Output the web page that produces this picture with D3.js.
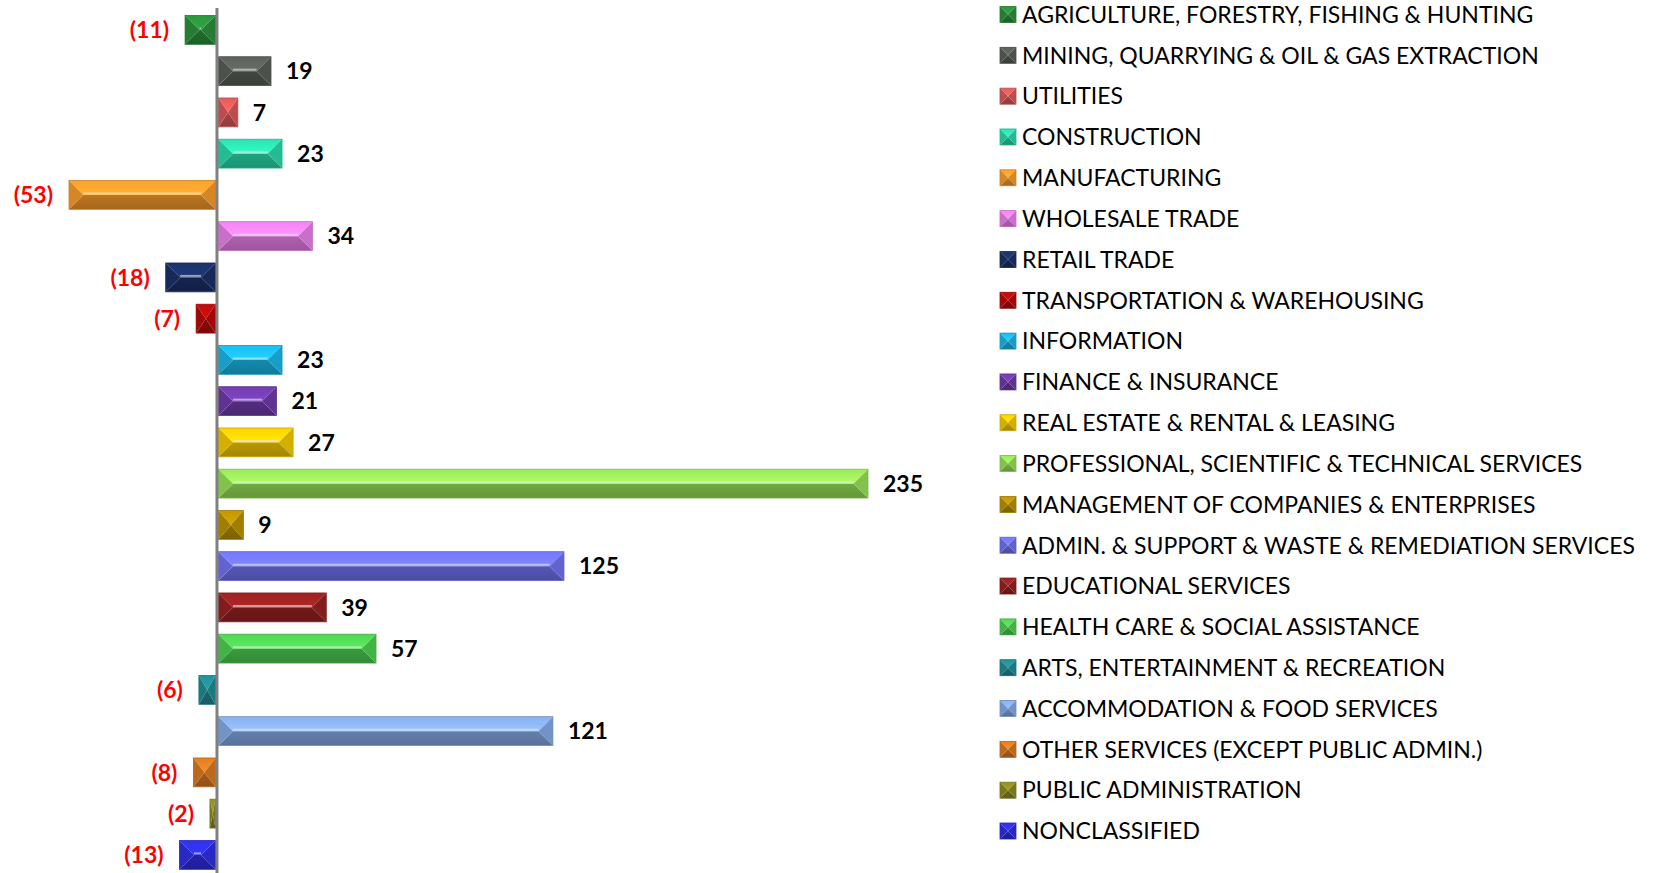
<!DOCTYPE html>
<html>
<head>
<meta charset="utf-8">
<script src="https://cdn.jsdelivr.net/npm/d3@7"></script>
<style>
  body { margin: 0; background: #fff; }
  text { font-family: Lato, "Open Sans", sans-serif; }
</style>
</head>
<body>
<svg id="chart" width="1654" height="873"></svg>
<script>
var categories = [
  "AGRICULTURE, FORESTRY, FISHING & HUNTING",
  "MINING, QUARRYING & OIL & GAS EXTRACTION",
  "UTILITIES",
  "CONSTRUCTION",
  "MANUFACTURING",
  "WHOLESALE TRADE",
  "RETAIL TRADE",
  "TRANSPORTATION & WAREHOUSING",
  "INFORMATION",
  "FINANCE & INSURANCE",
  "REAL ESTATE & RENTAL & LEASING",
  "PROFESSIONAL, SCIENTIFIC & TECHNICAL SERVICES",
  "MANAGEMENT OF COMPANIES & ENTERPRISES",
  "ADMIN. & SUPPORT & WASTE & REMEDIATION SERVICES",
  "EDUCATIONAL SERVICES",
  "HEALTH CARE & SOCIAL ASSISTANCE",
  "ARTS, ENTERTAINMENT & RECREATION",
  "ACCOMMODATION & FOOD SERVICES",
  "OTHER SERVICES (EXCEPT PUBLIC ADMIN.)",
  "PUBLIC ADMINISTRATION",
  "NONCLASSIFIED"
];
var values = [-11, 19, 7, 23, -53, 34, -18, -7, 23, 21, 27, 235, 9, 125, 39, 57, -6, 121, -8, -2, -13];

var colors = ["#2a8f3a", "#585d56", "#d95757", "#29d8a8", "#f5992a", "#e87ee8", "#1a2f66",
  "#b80a0a", "#1ab4e4", "#6e3aa8", "#f2c800", "#94de55", "#b89000", "#6f72ee", "#962020",
  "#4ccc50", "#1f8a92", "#82a8e4", "#d87820", "#8a8a20", "#2e2ee0"];

var svg = d3.select("#chart");
var defs = svg.append("defs");

var x = d3.scaleLinear().domain([-53, 235]).range([70, 866]);
var y = d3.scaleBand().domain(categories).range([9.3, 875.5]).paddingInner(0.3).paddingOuter(0.15);
var ly = d3.scalePoint().domain(categories).range([14.5, 831]);

// gradients for each colour
colors.forEach(function(c, i){
  var base = d3.color(c);
  var tg = defs.append("linearGradient").attr("id", "top" + i)
      .attr("x1", 0).attr("y1", 0).attr("x2", 0).attr("y2", 1);
  tg.append("stop").attr("offset", "0%").attr("stop-color", base.brighter(0.15));
  tg.append("stop").attr("offset", "100%").attr("stop-color", base.brighter(0.45));
  var bg = defs.append("linearGradient").attr("id", "bot" + i)
      .attr("x1", 0).attr("y1", 0).attr("x2", 0).attr("y2", 1);
  bg.append("stop").attr("offset", "0%").attr("stop-color", base.darker(0.75));
  bg.append("stop").attr("offset", "100%").attr("stop-color", base.darker(1.1));
});

function bevel(g, x0, y0, w, h, i){
  var c = d3.color(colors[i]);
  var x1 = x0 + w, y1 = y0 + h, ym = y0 + h / 2;
  var b = Math.min(w / 2, h / 2);
  g.append("polygon")
    .attr("points", [[x0, y0], [x1, y0], [x1 - b, ym], [x0 + b, ym]].join(" "))
    .attr("fill", "url(#top" + i + ")");
  g.append("polygon")
    .attr("points", [[x0, y1], [x1, y1], [x1 - b, ym], [x0 + b, ym]].join(" "))
    .attr("fill", "url(#bot" + i + ")");
  var mid = d3.interpolateRgb(c, c.darker(0.8))(0.5);
  g.append("polygon")
    .attr("points", [[x0, y0], [x0 + b, ym], [x0, y1]].join(" "))
    .attr("fill", mid);
  g.append("polygon")
    .attr("points", [[x1, y0], [x1 - b, ym], [x1, y1]].join(" "))
    .attr("fill", mid);
  if (w - 2 * b > 1) {
    g.append("line")
      .attr("x1", x0 + b).attr("x2", x1 - b)
      .attr("y1", ym - 1.5).attr("y2", ym - 1.5)
      .attr("stroke", d3.interpolateRgb(c, "#fff")(0.55))
      .attr("stroke-width", 2);
  }
  g.append("rect")
    .attr("x", x0).attr("y", y0).attr("width", w).attr("height", h)
    .attr("fill", "none").attr("stroke", c.darker(0.5)).attr("stroke-width", 0.8);
}

var bars = svg.append("g");
values.forEach(function(v, i){
  var x0 = Math.min(x(0), x(v)) + (v > 0 ? 2 : -1);
  var w = Math.abs(x(v) - x(0));
  bevel(bars, x0, y(categories[i]), w, y.bandwidth(), i);
});

// value labels
svg.append("g").selectAll("text")
  .data(values)
  .enter()
  .append("text")
    .attr("x", function(d){ return d >= 0 ? x(d) + 17 : x(d) - 17; })
    .attr("y", function(d, i){ return y(categories[i]) + y.bandwidth() / 2; })
    .attr("dy", "0.36em")
    .attr("text-anchor", function(d){ return d >= 0 ? "start" : "end"; })
    .attr("font-size", 23)
    .attr("font-weight", "bold")
    .attr("fill", function(d){ return d >= 0 ? "#000" : "#ff0000"; })
    .text(function(d){ return d >= 0 ? d : "(" + (-d) + ")"; });

// axis line at zero
svg.append("line")
  .attr("x1", x(0) + 0.5).attr("x2", x(0) + 0.5)
  .attr("y1", 8).attr("y2", 873)
  .attr("stroke", "#808080").attr("stroke-width", 3);

// legend
var legend = svg.append("g");
categories.forEach(function(cat, i){
  bevel(legend, 1000, ly(cat) - 8, 16, 16, i);
  legend.append("text")
    .attr("x", 1022)
    .attr("y", ly(cat))
    .attr("dy", "0.36em")
    .attr("font-size", 23)
    .attr("fill", "#000")
    .text(cat);
});
</script>
</body>
</html>
